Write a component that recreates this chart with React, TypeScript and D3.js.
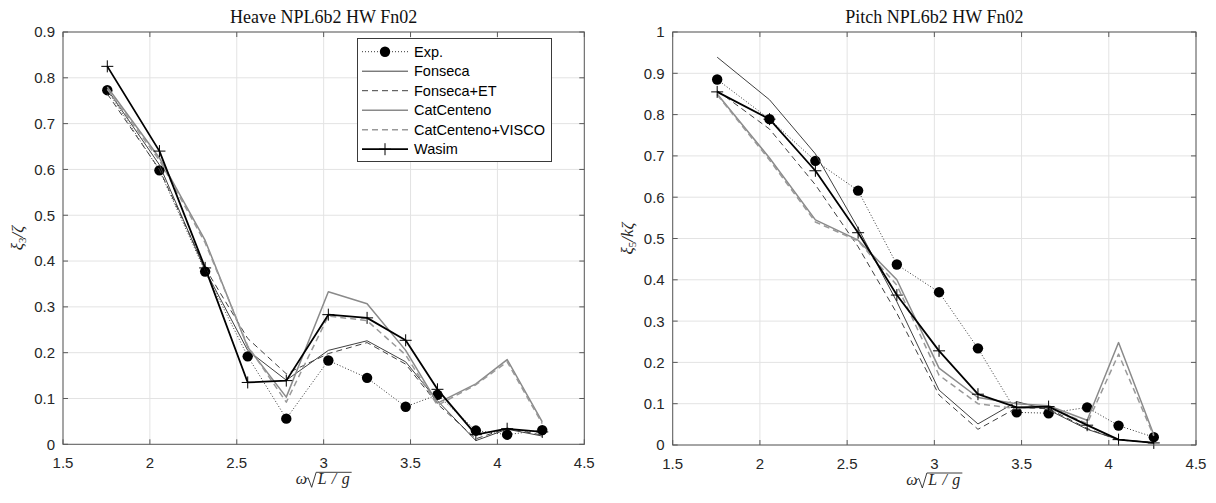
import React from 'react';
import * as d3 from 'd3';

// ---- data ----
const omega = [1.755, 2.055, 2.318, 2.563, 2.785, 3.027, 3.25, 3.472, 3.655, 3.876, 4.056, 4.258];

const seriesNames = ['Exp.', 'Fonseca', 'Fonseca+ET', 'CatCenteno', 'CatCenteno+VISCO', 'Wasim'];

const heaveExp = [0.773, 0.598, 0.377, 0.192, 0.056, 0.183, 0.145, 0.082, 0.108, 0.030, 0.021, 0.031];
const heaveFonseca = [0.775, 0.61, 0.38, 0.205, 0.14, 0.205, 0.226, 0.18, 0.095, 0.008, 0.033, 0.018];
const heaveFonsecaET = [0.765, 0.6, 0.385, 0.231, 0.154, 0.198, 0.222, 0.175, 0.088, 0.012, 0.035, 0.02];
const heaveCatCenteno = [0.78, 0.625, 0.445, 0.212, 0.103, 0.333, 0.307, 0.205, 0.09, 0.132, 0.185, 0.049];
const heaveCatVisco = [0.775, 0.62, 0.44, 0.215, 0.092, 0.28, 0.27, 0.195, 0.085, 0.13, 0.18, 0.045];
const heaveWasim = [0.825, 0.64, 0.385, 0.135, 0.139, 0.283, 0.276, 0.227, 0.12, 0.021, 0.034, 0.027];

const pitchExp = [0.885, 0.789, 0.688, 0.616, 0.437, 0.37, 0.234, 0.079, 0.077, 0.091, 0.047, 0.019];
const pitchFonseca = [0.939, 0.836, 0.705, 0.525, 0.347, 0.133, 0.051, 0.105, 0.085, 0.038, 0.013, 0.006];
const pitchFonsecaET = [0.858, 0.765, 0.63, 0.48, 0.319, 0.121, 0.038, 0.09, 0.088, 0.04, 0.012, 0.006];
const pitchCatCenteno = [0.85, 0.695, 0.545, 0.496, 0.4, 0.186, 0.115, 0.1, 0.095, 0.06, 0.248, 0.025];
const pitchCatVisco = [0.848, 0.69, 0.54, 0.494, 0.387, 0.169, 0.1, 0.088, 0.092, 0.052, 0.22, 0.022];
const pitchWasim = [0.855, 0.789, 0.664, 0.514, 0.363, 0.228, 0.123, 0.091, 0.093, 0.048, 0.013, 0.005];

const xTicks = [1.5, 2, 2.5, 3, 3.5, 4, 4.5];
const xTickLabels = ['1.5', '2', '2.5', '3', '3.5', '4', '4.5'];
const heaveYTicks = [0, 0.1, 0.2, 0.3, 0.4, 0.5, 0.6, 0.7, 0.8, 0.9];
const heaveYTickLabels = ['0', '0.1', '0.2', '0.3', '0.4', '0.5', '0.6', '0.7', '0.8', '0.9'];
const pitchYTicks = [0, 0.1, 0.2, 0.3, 0.4, 0.5, 0.6, 0.7, 0.8, 0.9, 1];
const pitchYTickLabels = ['0', '0.1', '0.2', '0.3', '0.4', '0.5', '0.6', '0.7', '0.8', '0.9', '1'];

// ---- styles ----
const styles = [
  { stroke: '#000', width: 0.8, dash: '1 2', marker: 'dot' },
  { stroke: '#404040', width: 1, dash: '', marker: '' },
  { stroke: '#404040', width: 1, dash: '6 4', marker: '' },
  { stroke: '#8a8a8a', width: 1.5, dash: '', marker: '' },
  { stroke: '#999999', width: 1.5, dash: '6 4', marker: '' },
  { stroke: '#000', width: 1.8, dash: '', marker: 'plus' },
];

const SANS = 'Liberation Sans, Arial, sans-serif';
const SERIF = 'Liberation Serif, Times New Roman, serif';
const AXIS_COLOR = '#5a5a5a';
const TEXT_COLOR = '#262626';
const GRID_COLOR = '#e3e3e3';

function Marker({ type, x, y }: { type: string; x: number; y: number }) {
  if (type === 'dot') return <circle cx={x} cy={y} r={5.2} fill="#000" />;
  if (type === 'plus')
    return (
      <path d={`M${x - 6},${y}H${x + 6}M${x},${y - 6}V${y + 6}`} stroke="#000" strokeWidth={1} fill="none" />
    );
  return null;
}

function Panel({ x0, x1, top, bottom, yMax, yTicks, yTickLabels, data, title, ylabel, legend }: any) {
  const xs = d3.scaleLinear().domain([1.5, 4.5]).range([x0, x1]);
  const ys = d3.scaleLinear().domain([0, yMax]).range([bottom, top]);
  const line = d3
    .line<number>()
    .x((_, i) => xs(omega[i]))
    .y((d) => ys(d));
  const cx = (x0 + x1) / 2;
  const cy = (top + bottom) / 2;
  const tl = 5;
  return (
    <g>
      {/* grid */}
      {xTicks.map((t) => (
        <line key={'gx' + t} x1={xs(t)} x2={xs(t)} y1={top} y2={bottom} stroke={GRID_COLOR} strokeWidth={1} />
      ))}
      {yTicks.map((t: number) => (
        <line key={'gy' + t} x1={x0} x2={x1} y1={ys(t)} y2={ys(t)} stroke={GRID_COLOR} strokeWidth={1} />
      ))}
      {/* series */}
      {data.map((vals: number[], si: number) => {
        const st = styles[si];
        return (
          <g key={'s' + si}>
            <path
              d={line(vals) || ''}
              fill="none"
              stroke={st.stroke}
              strokeWidth={st.width}
              strokeDasharray={st.dash || undefined}
              strokeLinejoin="round"
            />
            {st.marker &&
              vals.map((v, i) => <Marker key={i} type={st.marker} x={xs(omega[i])} y={ys(v)} />)}
          </g>
        );
      })}
      {/* ticks */}
      {xTicks.map((t) => (
        <g key={'tx' + t}>
          <line x1={xs(t)} x2={xs(t)} y1={bottom} y2={bottom - tl} stroke={AXIS_COLOR} />
          <line x1={xs(t)} x2={xs(t)} y1={top} y2={top + tl} stroke={AXIS_COLOR} />
        </g>
      ))}
      {yTicks.map((t: number) => (
        <g key={'ty' + t}>
          <line x1={x0} x2={x0 + tl} y1={ys(t)} y2={ys(t)} stroke={AXIS_COLOR} />
          <line x1={x1} x2={x1 - tl} y1={ys(t)} y2={ys(t)} stroke={AXIS_COLOR} />
        </g>
      ))}
      <rect x={x0} y={top} width={x1 - x0} height={bottom - top} fill="none" stroke={AXIS_COLOR} strokeWidth={1} />
      {/* tick labels */}
      {xTicks.map((t, i) => (
        <text key={'lx' + t} x={xs(t)} y={bottom + 24} textAnchor="middle" fontFamily={SANS} fontSize={15} fill={TEXT_COLOR}>
          {xTickLabels[i]}
        </text>
      ))}
      {yTicks.map((t: number, i: number) => (
        <text key={'ly' + t} x={x0 - 8} y={ys(t)} dy="0.36em" textAnchor="end" fontFamily={SANS} fontSize={15} fill={TEXT_COLOR}>
          {yTickLabels[i]}
        </text>
      ))}
      {/* title */}
      <text x={cx} y={top - 9} textAnchor="middle" fontFamily={SERIF} fontSize={18} fill="#111">
        {title}
      </text>
      {/* x label */}
      <g transform={`translate(${cx - 28},${bottom + 40})`}>
        <text x={0} y={0} fontFamily={SERIF} fontStyle="italic" fontSize={16} fill={TEXT_COLOR}>ω</text>
        <path d="M10,-5 L12.5,-6.5 L16,3 L20.5,-12 L56,-12" fill="none" stroke={TEXT_COLOR} strokeWidth={0.9} />
        <text x={22} y={0} fontFamily={SERIF} fontStyle="italic" fontSize={16} fill={TEXT_COLOR} textLength={32} lengthAdjust="spacing">L/g</text>
      </g>
      {/* y label */}
      <g transform={`translate(${x0 - 40},${cy}) rotate(-90)`}>
        <text x={0} y={0} textAnchor="middle" fontFamily={SERIF} fontStyle="italic" fontSize={17} fill={TEXT_COLOR}>
          {ylabel}
        </text>
      </g>
      {legend && <Legend />}
    </g>
  );
}

function Legend() {
  const lx = 357.5, ly = 38.5, w = 194, h = 123;
  const rowY = (i: number) => 51.7 + i * 19.5;
  return (
    <g>
      <rect x={lx} y={ly} width={w} height={h} fill="#fff" stroke="#3a3a3a" strokeWidth={1} />
      {seriesNames.map((name, i) => {
        const st = styles[i];
        const y = rowY(i);
        return (
          <g key={name}>
            <line x1={362} x2={408} y1={y} y2={y} stroke={st.stroke} strokeWidth={st.width} strokeDasharray={st.dash || undefined} />
            {st.marker && <Marker type={st.marker} x={385} y={y} />}
            <text x={414} y={y} dy="0.36em" fontFamily={SANS} fontSize={14.5} fill="#000">
              {name}
            </text>
          </g>
        );
      })}
    </g>
  );
}

export default function App() {
  const heaveData = [heaveExp, heaveFonseca, heaveFonsecaET, heaveCatCenteno, heaveCatVisco, heaveWasim];
  const pitchData = [pitchExp, pitchFonseca, pitchFonsecaET, pitchCatCenteno, pitchCatVisco, pitchWasim];
  return (
    <svg
      width={1216}
      height={503}
      style={{ position: 'absolute', left: 0, top: 0, background: '#fff' }}
      xmlns="http://www.w3.org/2000/svg"
    >
      <rect x={0} y={0} width={1216} height={503} fill="#fff" />
      <Panel
        x0={63}
        x1={584.3}
        top={32}
        bottom={444.3}
        yMax={0.9}
        yTicks={heaveYTicks}
        yTickLabels={heaveYTickLabels}
        data={heaveData}
        title="Heave NPL6b2 HW Fn02"
        ylabel={
          <>
            ξ<tspan fontSize={11} dy={3} fontStyle="normal">3</tspan>
            <tspan dy={-3}>/ζ</tspan>
          </>
        }
        legend
      />
      <Panel
        x0={672.7}
        x1={1196}
        top={32}
        bottom={445}
        yMax={1}
        yTicks={pitchYTicks}
        yTickLabels={pitchYTickLabels}
        data={pitchData}
        title="Pitch NPL6b2 HW Fn02"
        ylabel={
          <>
            ξ<tspan fontSize={11} dy={3} fontStyle="normal">5</tspan>
            <tspan dy={-3}>/kζ</tspan>
          </>
        }
      />
    </svg>
  );
}
